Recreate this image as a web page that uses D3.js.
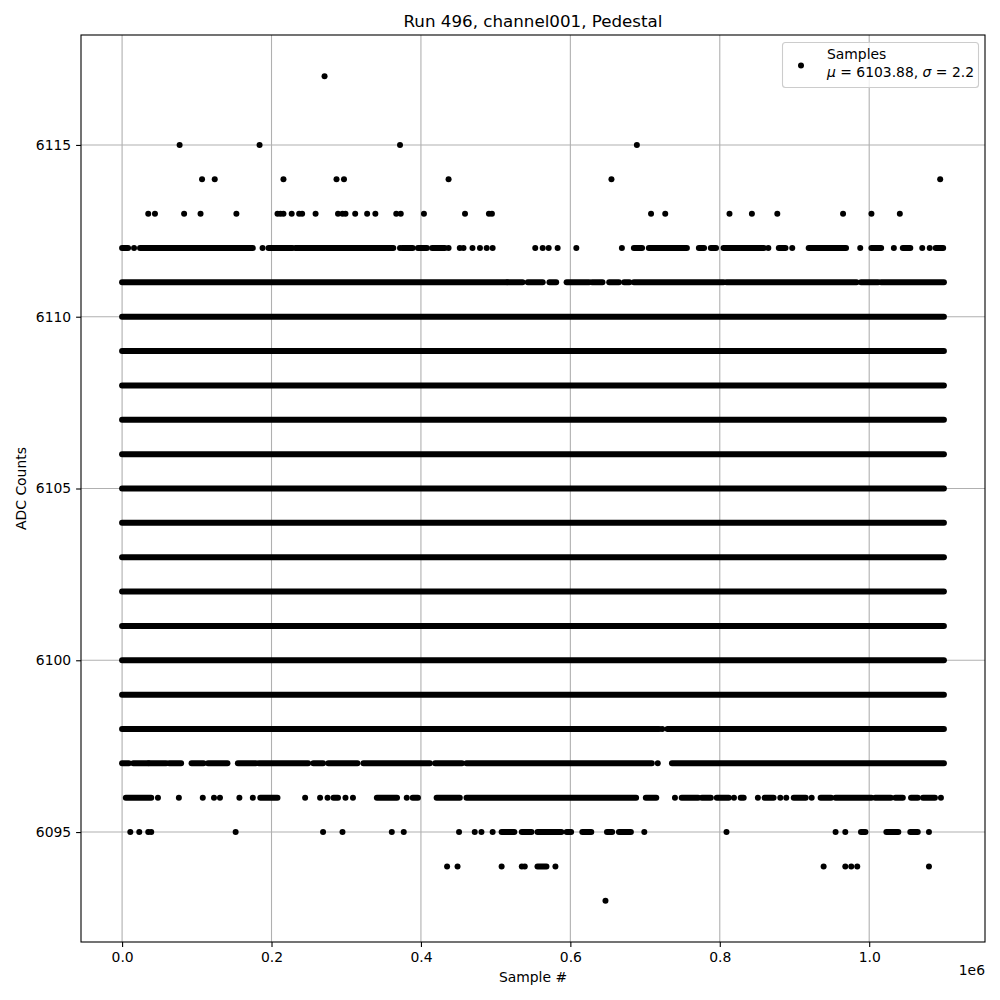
<!DOCTYPE html>
<html>
<head>
<meta charset="utf-8">
<script src="https://cdn.jsdelivr.net/npm/d3@7"></script>
<style>
  html, body { margin: 0; padding: 0; background: #fff; }
  svg { display: block; font-family: "DejaVu Sans", sans-serif; }
</style>
</head>
<body>
<svg id="chart" width="1000" height="1000"></svg>
<script>
// ---------------- DATA ----------------
const title = "Run 496, channel001, Pedestal";
const xLabel = "Sample #";
const yLabel = "ADC Counts";
const xOffsetText = "1e6";
const legendLabel = "Samples";
const meanValue = "6103.88";
const sigmaValue = "2.2";

const xTicks = [0, 200000, 400000, 600000, 800000, 1000000];
const xTickLabels = ["0.0", "0.2", "0.4", "0.6", "0.8", "1.0"];
const yTicks = [6095, 6100, 6105, 6110, 6115];
const yTickLabels = ["6095", "6100", "6105", "6110", "6115"];

// Sample-index runs [first, last] per ADC level (a single sample: first == last)
const row6117 = [[271000, 271000]];
const row6115 = [[77000, 77000], [184000, 184000], [372000, 372000], [689000, 689000]];
const row6114 = [[107000, 107000], [124000, 124000], [216000, 216000], [287000, 287000],
  [297000, 297000], [437000, 437000], [655000, 655000], [1095000, 1095000]];
const row6113 = [[35000, 35000], [44000, 44000], [83000, 83000], [105000, 105000], [153000, 153000],
  [208000, 208000], [212000, 212000], [216000, 216000], [227000, 227000], [237000, 237000],
  [241000, 241000], [259000, 259000], [289000, 289000], [295000, 295000], [299000, 299000],
  [312000, 312000], [328000, 328000], [339000, 339000], [367000, 367000], [373000, 373000],
  [404000, 404000], [459000, 459000], [491000, 491000], [495000, 495000], [708000, 708000],
  [727000, 727000], [813000, 813000], [843000, 843000], [877000, 877000], [965000, 965000],
  [1003000, 1003000], [1041000, 1041000]];
const row6112 = [[0, 8000], [16000, 16000], [24000, 175000], [188000, 188000], [196000, 228000],
  [232000, 363000], [372000, 372000], [375000, 389000], [396000, 408000], [415000, 432000],
  [437000, 437000], [452000, 452000], [457000, 457000], [469000, 469000], [479000, 479000],
  [488000, 488000], [496000, 496000], [553000, 553000], [563000, 563000], [571000, 571000],
  [583000, 583000], [608000, 608000], [669000, 669000], [685000, 696000], [705000, 756000],
  [772000, 779000], [788000, 795000], [805000, 859000], [865000, 865000], [879000, 888000],
  [897000, 897000], [919000, 969000], [988000, 988000], [1003000, 1016000], [1033000, 1033000],
  [1045000, 1055000], [1071000, 1071000], [1081000, 1081000], [1089000, 1099000]];
const row6111 = [[0, 515000], [516000, 536000], [543000, 563000], [572000, 581000], [595000, 625000],
  [629000, 643000], [652000, 665000], [672000, 679000], [685000, 805000], [809000, 983000],
  [989000, 1012000], [1016000, 1100000]];
const denseLevels = [6099, 6100, 6101, 6102, 6103, 6104, 6105, 6106, 6107, 6108, 6109, 6110];
const denseRun = [[0, 1100000]];
const row6098 = [[0, 719000], [723000, 723000], [730000, 1100000]];
const row6097 = [[0, 9000], [15000, 35000], [36000, 59000], [63000, 79000], [93000, 109000],
  [115000, 141000], [155000, 179000], [183000, 249000], [256000, 269000], [276000, 315000],
  [323000, 412000], [419000, 455000], [461000, 709000], [717000, 717000], [736000, 1100000]];
const row6096 = [[5000, 39000], [48000, 48000], [76000, 76000], [108000, 108000], [123000, 123000],
  [131000, 131000], [157000, 157000], [175000, 175000], [185000, 208000], [245000, 245000],
  [265000, 265000], [275000, 275000], [283000, 289000], [299000, 299000], [309000, 309000],
  [341000, 368000], [381000, 381000], [389000, 396000], [421000, 452000], [461000, 688000],
  [701000, 715000], [740000, 740000], [749000, 771000], [776000, 788000], [796000, 812000],
  [819000, 819000], [828000, 832000], [851000, 851000], [860000, 872000], [881000, 881000],
  [889000, 889000], [899000, 915000], [923000, 923000], [935000, 949000], [955000, 1003000],
  [1008000, 1029000], [1035000, 1045000], [1056000, 1065000], [1072000, 1088000], [1096000, 1096000]];
const row6095 = [[11000, 11000], [23000, 23000], [35000, 35000], [39000, 39000], [152000, 152000],
  [269000, 269000], [295000, 295000], [361000, 361000], [377000, 377000], [451000, 451000],
  [472000, 472000], [481000, 481000], [496000, 496000], [508000, 525000], [535000, 548000],
  [556000, 588000], [595000, 601000], [616000, 628000], [649000, 656000], [665000, 681000],
  [699000, 699000], [809000, 809000], [955000, 955000], [968000, 968000], [989000, 995000],
  [1023000, 1039000], [1055000, 1065000], [1080000, 1080000]];
const row6094 = [[435000, 435000], [449000, 449000], [508000, 508000], [535000, 535000],
  [539000, 539000], [556000, 568000], [580000, 580000], [939000, 939000], [968000, 968000],
  [976000, 976000], [984000, 984000], [1080000, 1080000]];
const row6093 = [[647000, 647000]];

// ---------------- LAYOUT ----------------
const W = 1000, H = 1000;
const plot = { left: 81, right: 985, top: 35, bottom: 942 };
const svg = d3.select("#chart");

const x = d3.scaleLinear().domain([-55000, 1155000]).range([plot.left, plot.right]);
const y = d3.scaleLinear().domain([6091.8, 6118.2]).range([plot.bottom, plot.top]);

const rows = [
  { level: 6117, runs: row6117 }, { level: 6115, runs: row6115 }, { level: 6114, runs: row6114 },
  { level: 6113, runs: row6113 }, { level: 6112, runs: row6112 }, { level: 6111, runs: row6111 },
  ...denseLevels.map(l => ({ level: l, runs: denseRun })),
  { level: 6098, runs: row6098 }, { level: 6097, runs: row6097 }, { level: 6096, runs: row6096 },
  { level: 6095, runs: row6095 }, { level: 6094, runs: row6094 }, { level: 6093, runs: row6093 }
];

svg.append("rect").attr("width", W).attr("height", H).attr("fill", "#fff");

svg.append("defs").append("clipPath").attr("id", "clip")
  .append("rect").attr("x", plot.left).attr("y", plot.top)
  .attr("width", plot.right - plot.left).attr("height", plot.bottom - plot.top);

// grid
const grid = svg.append("g").attr("clip-path", "url(#clip)");
grid.selectAll("line.gx").data(xTicks).join("line")
  .attr("x1", d => x(d)).attr("x2", d => x(d))
  .attr("y1", plot.top).attr("y2", plot.bottom)
  .attr("stroke", "#b0b0b0").attr("stroke-width", 1.1);
grid.selectAll("line.gy").data(yTicks).join("line")
  .attr("y1", d => y(d)).attr("y2", d => y(d))
  .attr("x1", plot.left).attr("x2", plot.right)
  .attr("stroke", "#b0b0b0").attr("stroke-width", 1.1);

// points
const R = 3;
const pts = svg.append("g").attr("clip-path", "url(#clip)");
rows.forEach(row => {
  const g = pts.append("g");
  const singles = row.runs.filter(r => r[0] === r[1]);
  const spans = row.runs.filter(r => r[0] !== r[1]);
  g.selectAll("circle").data(singles).join("circle")
    .attr("cx", d => x(d[0])).attr("cy", y(row.level)).attr("r", R).attr("fill", "#000");
  g.selectAll("line").data(spans).join("line")
    .attr("x1", d => x(d[0])).attr("x2", d => x(d[1]))
    .attr("y1", y(row.level)).attr("y2", y(row.level))
    .attr("stroke", "#000").attr("stroke-width", 2 * R).attr("stroke-linecap", "round");
});

// axes
const xAxis = d3.axisBottom(x).tickValues(xTicks).tickFormat((d, i) => xTickLabels[i])
  .tickSizeInner(4.9).tickSizeOuter(0).tickPadding(4.9);
const yAxis = d3.axisLeft(y).tickValues(yTicks).tickFormat((d, i) => yTickLabels[i])
  .tickSizeInner(4.9).tickSizeOuter(0).tickPadding(4.9);

const gx = svg.append("g").attr("transform", `translate(0,${plot.bottom})`).call(xAxis);
const gy = svg.append("g").attr("transform", `translate(${plot.left},0)`).call(yAxis);
[gx, gy].forEach(g => {
  g.select(".domain").remove();
  g.selectAll(".tick line").attr("stroke", "#000").attr("stroke-width", 1.1);
  g.selectAll(".tick text").attr("fill", "#000").style("font-size", "13.9px")
    .style("font-family", "DejaVu Sans");
});

// spines
svg.append("rect").attr("x", plot.left).attr("y", plot.top)
  .attr("width", plot.right - plot.left).attr("height", plot.bottom - plot.top)
  .attr("fill", "none").attr("stroke", "#000").attr("stroke-width", 1.1);

// texts
svg.append("text").attr("x", (plot.left + plot.right) / 2).attr("y", 27)
  .attr("text-anchor", "middle").style("font-size", "16.7px").text(title);
svg.append("text").attr("x", (plot.left + plot.right) / 2).attr("y", 982)
  .attr("text-anchor", "middle").style("font-size", "13.9px").text(xLabel);
svg.append("text").attr("x", plot.right).attr("y", 975)
  .attr("text-anchor", "end").style("font-size", "13.9px").text(xOffsetText);
svg.append("text").attr("transform", `translate(26,${(plot.top + plot.bottom) / 2}) rotate(-90)`)
  .attr("text-anchor", "middle").style("font-size", "13.9px").text(yLabel);

// legend
const lg = svg.append("g");
lg.append("rect").attr("x", 782.5).attr("y", 42.5).attr("width", 196).attr("height", 45)
  .attr("rx", 3).attr("ry", 3)
  .attr("fill", "#fff").attr("fill-opacity", 0.8)
  .attr("stroke", "#cccccc").attr("stroke-width", 1.1);
lg.append("circle").attr("cx", 801).attr("cy", 65.5).attr("r", R).attr("fill", "#000");
lg.append("text").attr("x", 827).attr("y", 59).style("font-size", "13.9px").text(legendLabel);
const t2 = lg.append("text").attr("x", 827).attr("y", 76.5).style("font-size", "13.9px");
t2.append("tspan").style("font-style", "italic").text("μ");
t2.append("tspan").text(` = ${meanValue}, `);
t2.append("tspan").style("font-style", "italic").text("σ");
t2.append("tspan").text(` = ${sigmaValue}`);
</script>
</body>
</html>
